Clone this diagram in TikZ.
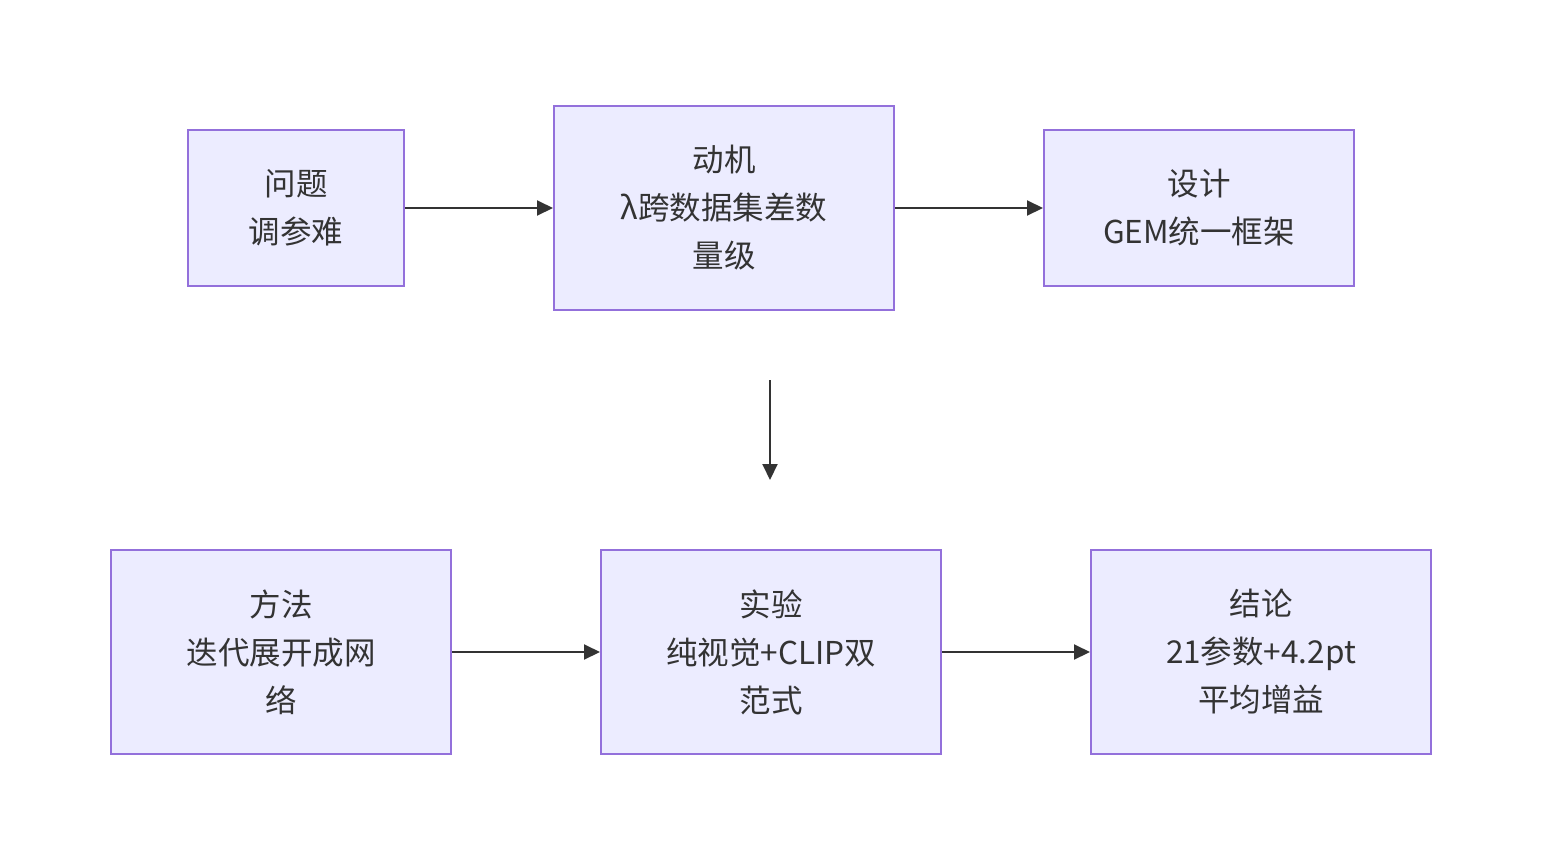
\documentclass[tikz,border=0pt]{standalone}
\usepackage{fontspec}
\newfontfamily\cjk{Noto Sans CJK SC}
\usetikzlibrary{arrows.meta}
\definecolor{boxfill}{HTML}{ECECFF}
\definecolor{boxline}{HTML}{9370DB}
\definecolor{ink}{HTML}{333333}
\tikzset{
  box/.style={draw=boxline, fill=boxfill, line width=2pt, inner sep=0pt, align=center,
    text=ink, font=\cjk\fontsize{31.5}{48}\selectfont},
  conn/.style={draw=ink, line width=2pt, -{Triangle[length=16pt,width=15pt]}}
}
\begin{document}
\begin{tikzpicture}[x=1pt,y=-1pt]
\useasboundingbox (0,0) rectangle (1542,860);
\node[box, minimum width=216pt, minimum height=156pt] (p) at (296,208) {问题\\调参难};
\node[box, minimum width=340pt, minimum height=204pt] (m) at (724,208) {动机\\λ跨数据集差数\\量级};
\node[box, minimum width=310pt, minimum height=156pt] (d) at (1199,208) {设计\\GEM统一框架};
\node[box, minimum width=340pt, minimum height=204pt] (f) at (281,652) {方法\\迭代展开成网\\络};
\node[box, minimum width=340pt, minimum height=204pt] (e) at (771,652) {实验\\纯视觉+CLIP双\\范式};
\node[box, minimum width=340pt, minimum height=204pt] (c) at (1261,652) {结论\\21参数+4.2pt\\平均增益};
\coordinate (va) at (770,380);
\coordinate (vb) at (770,480);
\draw[conn] (p) -- (m);
\draw[conn] (m) -- (d);
\draw[conn] (f) -- (e);
\draw[conn] (e) -- (c);
\draw[conn] (va) -- (vb);
\end{tikzpicture}
\end{document}
